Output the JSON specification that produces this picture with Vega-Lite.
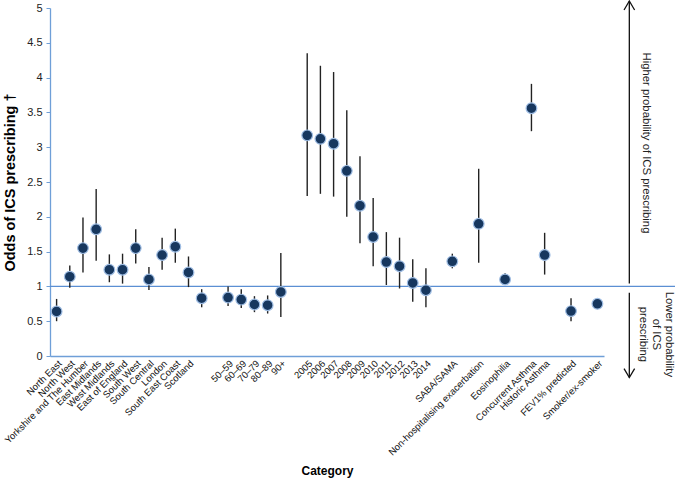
{
  "$schema": "https://vega.github.io/schema/vega-lite/v6.json",
  "width": 554,
  "height": 348,
  "autosize": {"type": "none"},
  "padding": {"left": 50, "top": 8, "right": 71, "bottom": 127},
  "background": "white",
  "config": {
    "view": {"stroke": null},
    "font": "Liberation Sans",
    "axis": {"grid": false}
  },
  "datasets": {
    "odds": [
      {"cat": "North East", "or": 0.64, "lo": 0.50, "hi": 0.82},
      {"cat": "North West", "or": 1.14, "lo": 0.98, "hi": 1.30},
      {"cat": "Yorkshire and The Humber", "or": 1.55, "lo": 1.20, "hi": 1.99},
      {"cat": "East Midlands", "or": 1.82, "lo": 1.37, "hi": 2.40},
      {"cat": "West Midlands", "or": 1.24, "lo": 1.06, "hi": 1.46},
      {"cat": "East of England", "or": 1.24, "lo": 1.04, "hi": 1.47},
      {"cat": "South West", "or": 1.55, "lo": 1.33, "hi": 1.82},
      {"cat": "South Central", "or": 1.10, "lo": 0.95, "hi": 1.28},
      {"cat": "London", "or": 1.45, "lo": 1.24, "hi": 1.70},
      {"cat": "South East Coast", "or": 1.57, "lo": 1.34, "hi": 1.83},
      {"cat": "Scotland", "or": 1.20, "lo": 0.99, "hi": 1.43},
      {"cat": " ", "or": 0.83, "lo": 0.70, "hi": 0.96},
      {"cat": "50–59", "or": 0.84, "lo": 0.72, "hi": 1.00},
      {"cat": "60–69", "or": 0.81, "lo": 0.69, "hi": 0.96},
      {"cat": "70–79", "or": 0.74, "lo": 0.63, "hi": 0.86},
      {"cat": "80–89", "or": 0.73, "lo": 0.61, "hi": 0.87},
      {"cat": "90+", "or": 0.92, "lo": 0.56, "hi": 1.48},
      {"cat": "2005", "or": 3.17, "lo": 2.30, "hi": 4.35},
      {"cat": "2006", "or": 3.12, "lo": 2.33, "hi": 4.17},
      {"cat": "2007", "or": 3.05, "lo": 2.29, "hi": 4.08},
      {"cat": "2008", "or": 2.66, "lo": 2.00, "hi": 3.53},
      {"cat": "2009", "or": 2.16, "lo": 1.62, "hi": 2.87},
      {"cat": "2010", "or": 1.71, "lo": 1.29, "hi": 2.27},
      {"cat": "2011", "or": 1.35, "lo": 1.02, "hi": 1.78},
      {"cat": "2012", "or": 1.29, "lo": 0.97, "hi": 1.70},
      {"cat": "2013", "or": 1.05, "lo": 0.78, "hi": 1.39},
      {"cat": "2014", "or": 0.945, "lo": 0.70, "hi": 1.26},
      {"cat": "SABA/SAMA", "or": 1.36, "lo": 1.26, "hi": 1.47},
      {"cat": "Non-hospitalising exacerbation", "or": 1.90, "lo": 1.34, "hi": 2.69},
      {"cat": "Eosinophilia", "or": 1.10, "lo": 1.03, "hi": 1.19},
      {"cat": "Concurrent Asthma", "or": 3.56, "lo": 3.23, "hi": 3.91},
      {"cat": "Historic Asthma", "or": 1.45, "lo": 1.17, "hi": 1.77},
      {"cat": "FEV1% predicted", "or": 0.645, "lo": 0.50, "hi": 0.83},
      {"cat": "Smoker/ex-smoker", "or": 0.75, "lo": 0.72, "hi": 0.78}
    ],
    "refline": [{"x": 0, "x2": 47.5, "y": 1}],
    "arrows": [
      {"x": 43.92, "y": 5.10, "y2": 1.04},
      {"x": 43.92, "y": 0.91, "y2": -0.31}
    ],
    "heads": [
      {"x": 43.92, "y": 5.10, "dir": "up"},
      {"x": 43.92, "y": -0.31, "dir": "down"}
    ],
    "notes": [
      {"x": 45.19, "y": 3.06, "t": ["Higher probability of ICS prescribing"]},
      {"x": 46.95, "y": 0.31, "t": ["Lower probability", "of ICS", "prescribing"]}
    ]
  },
  "resolve": {"scale": {"x": "independent", "y": "independent"}, "axis": {"x": "independent", "y": "independent"}},
  "layer": [
    {
      "layer": [
        {
          "data": {"name": "refline"},
          "mark": {"type": "rule", "color": "#5b8fd3", "strokeWidth": 1.3},
          "encoding": {
            "x": {"field": "x", "type": "quantitative", "scale": {"domain": [0, 42], "nice": false, "zero": false}, "axis": null},
            "x2": {"field": "x2"},
            "y": {"field": "y", "type": "quantitative", "scale": {"domain": [0, 5], "nice": false}, "axis": null}
          }
        },
        {
          "data": {"name": "arrows"},
          "mark": {"type": "rule", "color": "#111", "strokeWidth": 1.3},
          "encoding": {
            "x": {"field": "x", "type": "quantitative"},
            "y": {"field": "y", "type": "quantitative"},
            "y2": {"field": "y2"}
          }
        },
        {
          "data": {"name": "heads"},
          "mark": {"type": "point", "filled": false, "stroke": "#111", "strokeWidth": 1.3, "size": 112, "opacity": 1},
          "encoding": {
            "x": {"field": "x", "type": "quantitative"},
            "y": {"field": "y", "type": "quantitative"},
            "shape": {"field": "dir", "type": "nominal", "scale": {"domain": ["up", "down"], "range": ["M-1,1.7L0,0L1,1.7", "M-1,-1.7L0,0L1,-1.7"]}, "legend": null}
          }
        },
        {
          "data": {"name": "notes"},
          "mark": {"type": "text", "angle": 90, "align": "center", "baseline": "middle", "fontSize": 11.3, "lineHeight": 13, "color": "#222"},
          "encoding": {
            "x": {"field": "x", "type": "quantitative"},
            "y": {"field": "y", "type": "quantitative"},
            "text": {"field": "t"}
          }
        }
      ]
    },
    {
      "data": {"name": "odds"},
      "encoding": {
        "x": {
          "field": "cat", "type": "nominal", "sort": null,
          "scale": {"type": "band", "paddingInner": 0, "paddingOuter": 0, "domain": [
            "North East", "North West", "Yorkshire and The Humber", "East Midlands", "West Midlands", "East of England", "South West", "South Central", "London", "South East Coast", "Scotland", " ",
            "  ", "50–59", "60–69", "70–79", "80–89", "90+",
            "   ", "2005", "2006", "2007", "2008", "2009", "2010", "2011", "2012", "2013", "2014",
            "    ", "SABA/SAMA", "     ", "Non-hospitalising exacerbation", "      ", "Eosinophilia", "       ", "Concurrent Asthma", "Historic Asthma", "        ", "FEV1% predicted", "         ", "Smoker/ex-smoker"
          ]},
          "axis": {
            "orient": "bottom",
            "title": "Category", "titleFontSize": 12, "titleFontWeight": "bold", "titleColor": "#000",
            "titleX": 277, "titleY": 114, "titleBaseline": "middle",
            "labelAngle": -45, "labelFontSize": 9.5, "labelColor": "#111", "labelOverlap": false, "labelPadding": 2,
            "ticks": false, "domainColor": "#6f9fd8", "domainWidth": 1.3
          }
        },
        "y": {
          "field": "or", "type": "quantitative",
          "scale": {"domain": [0, 5], "nice": false},
          "axis": {
            "orient": "left",
            "title": "Odds of ICS prescribing †", "titleFontSize": 14.5, "titleFontWeight": "bold", "titleColor": "#000",
            "titleX": -33, "titleY": 174, "titleAngle": -90, "titleAlign": "center",
            "values": [0, 0.5, 1, 1.5, 2, 2.5, 3, 3.5, 4, 4.5, 5], "format": "~g",
            "labelFontSize": 11, "labelColor": "#222", "labelPadding": 4,
            "tickSize": 4, "tickColor": "#6f9fd8", "domainColor": "#6f9fd8", "domainWidth": 1.3
          }
        }
      },
      "layer": [
        {
          "mark": {"type": "rule", "color": "#222", "strokeWidth": 1.4},
          "encoding": {"y": {"field": "lo", "type": "quantitative"}, "y2": {"field": "hi"}}
        },
        {
          "mark": {"type": "point", "filled": true, "size": 115, "fill": "#17375e", "stroke": "#9fbde3", "strokeWidth": 1.2, "opacity": 1}
        }
      ]
    }
  ]
}
